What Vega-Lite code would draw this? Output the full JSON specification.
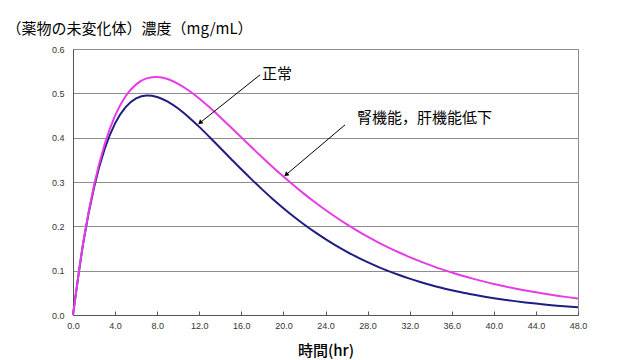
{
  "$schema": "https://vega.github.io/schema/vega-lite/v6.json",
  "width": 505,
  "height": 266,
  "autosize": {"type": "none"},
  "padding": {"left": 73, "top": 49, "right": 62, "bottom": 45},
  "background": "white",
  "config": {
    "font": "Noto Sans CJK JP",
    "view": {"stroke": "#8c8c8c", "strokeWidth": 1},
    "axisX": {
      "grid": false,
      "labelFontSize": 9,
      "labelColor": "#333333",
      "labelFont": "Liberation Sans",
      "domainColor": "#555555",
      "tickColor": "#555555",
      "tickSize": -4,
      "labelPadding": 10,
      "labelFlush": false,
      "titleFontSize": 15,
      "titleFontWeight": 500,
      "titleColor": "#000000",
      "titleBaseline": "top",
      "titleY": 28
    },
    "axisY": {
      "ticks": false,
      "labelPadding": 9,
      "labelFontSize": 9,
      "labelColor": "#333333",
      "labelFont": "Liberation Sans",
      "domainColor": "#555555",
      "gridColor": "#8c8c8c",
      "gridWidth": 1,
      "titleAngle": 0,
      "titleAlign": "left",
      "titleBaseline": "middle",
      "titleX": -67,
      "titleY": -21,
      "titleFontSize": 15,
      "titleFontWeight": "normal",
      "titleColor": "#000000"
    }
  },
  "datasets": {
    "curves": [
      {"t": 0, "normal": 0, "impaired": 0},
      {"t": 1, "normal": 0.1661, "impaired": 0.1673},
      {"t": 2, "normal": 0.2877, "impaired": 0.2928},
      {"t": 3, "normal": 0.3739, "impaired": 0.3847},
      {"t": 4, "normal": 0.4323, "impaired": 0.4498},
      {"t": 5, "normal": 0.4688, "impaired": 0.4934},
      {"t": 6, "normal": 0.4884, "impaired": 0.5202},
      {"t": 7, "normal": 0.4951, "impaired": 0.5337},
      {"t": 8, "normal": 0.4919, "impaired": 0.5369},
      {"t": 9, "normal": 0.4814, "impaired": 0.5322},
      {"t": 10, "normal": 0.4657, "impaired": 0.5216},
      {"t": 11, "normal": 0.4462, "impaired": 0.5065},
      {"t": 12, "normal": 0.4243, "impaired": 0.4883},
      {"t": 13, "normal": 0.4009, "impaired": 0.4678},
      {"t": 14, "normal": 0.3768, "impaired": 0.446},
      {"t": 15, "normal": 0.3526, "impaired": 0.4234},
      {"t": 16, "normal": 0.3286, "impaired": 0.4006},
      {"t": 17, "normal": 0.3053, "impaired": 0.3778},
      {"t": 18, "normal": 0.2828, "impaired": 0.3553},
      {"t": 19, "normal": 0.2613, "impaired": 0.3335},
      {"t": 20, "normal": 0.241, "impaired": 0.3124},
      {"t": 21, "normal": 0.2217, "impaired": 0.2921},
      {"t": 22, "normal": 0.2037, "impaired": 0.2727},
      {"t": 23, "normal": 0.1869, "impaired": 0.2543},
      {"t": 24, "normal": 0.1712, "impaired": 0.2369},
      {"t": 25, "normal": 0.1566, "impaired": 0.2204},
      {"t": 26, "normal": 0.1432, "impaired": 0.2049},
      {"t": 27, "normal": 0.1307, "impaired": 0.1904},
      {"t": 28, "normal": 0.1193, "impaired": 0.1767},
      {"t": 29, "normal": 0.1087, "impaired": 0.1639},
      {"t": 30, "normal": 0.0991, "impaired": 0.152},
      {"t": 31, "normal": 0.0902, "impaired": 0.1409},
      {"t": 32, "normal": 0.0821, "impaired": 0.1305},
      {"t": 33, "normal": 0.0746, "impaired": 0.1209},
      {"t": 34, "normal": 0.0678, "impaired": 0.1119},
      {"t": 35, "normal": 0.0616, "impaired": 0.1035},
      {"t": 36, "normal": 0.056, "impaired": 0.0958},
      {"t": 37, "normal": 0.0508, "impaired": 0.0886},
      {"t": 38, "normal": 0.0462, "impaired": 0.082},
      {"t": 39, "normal": 0.0419, "impaired": 0.0758},
      {"t": 40, "normal": 0.038, "impaired": 0.0701},
      {"t": 41, "normal": 0.0345, "impaired": 0.0648},
      {"t": 42, "normal": 0.0313, "impaired": 0.0599},
      {"t": 43, "normal": 0.0283, "impaired": 0.0553},
      {"t": 44, "normal": 0.0257, "impaired": 0.0511},
      {"t": 45, "normal": 0.0233, "impaired": 0.0472},
      {"t": 46, "normal": 0.0211, "impaired": 0.0436},
      {"t": 47, "normal": 0.0191, "impaired": 0.0403},
      {"t": 48, "normal": 0.0173, "impaired": 0.0372}
    ],
    "notes": [
      {"label": "正常", "tx": 17.97, "cx": 0.544, "t1": 17.78, "c1": 0.5417, "t2": 12.07, "c2": 0.4336},
      {"label": "腎機能，肝機能低下", "tx": 27.0, "cx": 0.444, "t1": 25.86, "c1": 0.429, "t2": 20.25, "c2": 0.3164}
    ]
  },
  "layer": [
    {
      "data": {"name": "curves"},
      "mark": {"type": "line", "color": "#1e1e80", "strokeWidth": 2, "interpolate": "monotone"},
      "encoding": {
        "x": {
          "field": "t", "type": "quantitative",
          "scale": {"domain": [0, 48], "nice": false, "zero": false},
          "title": "時間(hr)",
          "axis": {"values": [0, 4, 8, 12, 16, 20, 24, 28, 32, 36, 40, 44, 48], "format": ".1f"}
        },
        "y": {
          "field": "normal", "type": "quantitative",
          "scale": {"domain": [0, 0.6], "nice": false},
          "title": "（薬物の未変化体）濃度（mg/mL）",
          "axis": {"values": [0, 0.1, 0.2, 0.3, 0.4, 0.5, 0.6], "format": ".1f"}
        }
      }
    },
    {
      "data": {"name": "curves"},
      "mark": {"type": "line", "color": "#e63ce6", "strokeWidth": 2, "interpolate": "monotone"},
      "encoding": {
        "x": {"field": "t", "type": "quantitative", "title": "時間(hr)"},
        "y": {"field": "impaired", "type": "quantitative", "title": "（薬物の未変化体）濃度（mg/mL）"}
      }
    },
    {
      "data": {"name": "notes"},
      "mark": {"type": "rule", "color": "#000000", "strokeWidth": 1},
      "encoding": {
        "x": {"field": "t1", "type": "quantitative", "title": "時間(hr)"},
        "y": {"field": "c1", "type": "quantitative", "title": "（薬物の未変化体）濃度（mg/mL）"},
        "x2": {"field": "t2"},
        "y2": {"field": "c2"}
      }
    },
    {
      "data": {"name": "notes"},
      "mark": {"type": "point", "shape": "triangle-up", "filled": true, "color": "#000000", "opacity": 1, "size": 28, "angle": 230},
      "encoding": {
        "x": {"field": "t2", "type": "quantitative", "title": "時間(hr)"},
        "y": {"field": "c2", "type": "quantitative", "title": "（薬物の未変化体）濃度（mg/mL）"}
      }
    },
    {
      "data": {"name": "notes"},
      "mark": {"type": "text", "align": "left", "baseline": "middle", "fontSize": 15, "color": "#000000"},
      "encoding": {
        "x": {"field": "tx", "type": "quantitative", "title": "時間(hr)"},
        "y": {"field": "cx", "type": "quantitative", "title": "（薬物の未変化体）濃度（mg/mL）"},
        "text": {"field": "label"}
      }
    }
  ]
}
